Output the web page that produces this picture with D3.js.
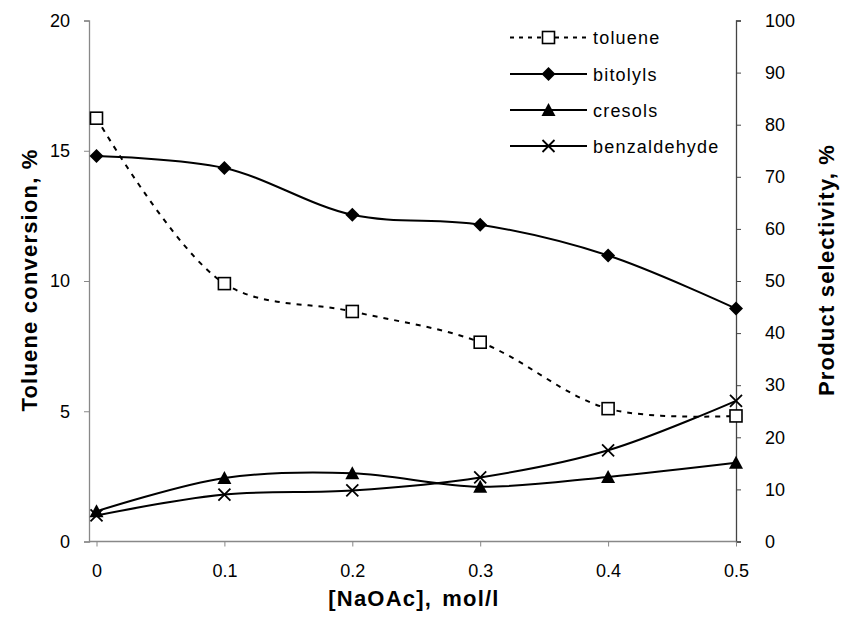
<!DOCTYPE html>
<html><head><meta charset="utf-8">
<script src="https://cdn.jsdelivr.net/npm/d3@7"></script>
<style>body{margin:0;background:#fff}svg{display:block;font-family:Arial,"Liberation Sans",sans-serif}</style>
</head><body><svg id="c" width="841" height="617"></svg>
<script>
const xValues = [0, 0.1, 0.2, 0.3, 0.4, 0.5];
const toluene = [16.25, 9.9, 8.83, 7.65, 5.1, 4.82];      // left axis, %
const bitolyls = [74.0, 71.7, 62.7, 60.8, 54.9, 44.7];     // right axis, %
const cresols = [5.8, 12.2, 13.1, 10.5, 12.4, 15.1];       // right axis, %
const benzaldehyde = [5.0, 9.0, 9.8, 12.3, 17.5, 27.0];    // right axis, %
const leftTicks = [0, 5, 10, 15, 20];
const rightTicks = [0, 10, 20, 30, 40, 50, 60, 70, 80, 90, 100];
const xTicks = [0, 0.1, 0.2, 0.3, 0.4, 0.5];
const xTickLabels = ["0", "0.1", "0.2", "0.3", "0.4", "0.5"];

(function(){
const svg = d3.select("#c");
const axisLeftX = 89, plotRight = 736, plotTop = 20.5, plotBottom = 541.5;
const x = d3.scaleLinear().domain([0, 0.5]).range([96.5, 736]);
const yL = d3.scaleLinear().domain([0, 20]).range([plotBottom, plotTop]);
const yR = d3.scaleLinear().domain([0, 100]).range([plotBottom, plotTop]);

// axes
const gL = svg.append("g").attr("transform", `translate(${axisLeftX},0)`)
  .call(d3.axisLeft(yL).tickValues(leftTicks).tickSize(5).tickPadding(14).tickFormat(d3.format("d")));
const gR = svg.append("g").attr("transform", `translate(${plotRight},0)`)
  .call(d3.axisRight(yR).tickValues(rightTicks).tickSize(5).tickPadding(24).tickFormat(d3.format("d")));
const gB = svg.append("g").attr("transform", `translate(0,${plotBottom})`)
  .call(d3.axisBottom(x).tickValues(xTicks).tickSize(5).tickPadding(18).tickFormat((d,i)=>xTickLabels[i]));
gB.select(".domain").attr("d", `M${axisLeftX},0H${plotRight}`);
[gL, gR, gB].forEach(g => {
  g.selectAll("text").attr("font-size", 18).attr("font-family", "Arial, 'Liberation Sans', sans-serif").attr("fill", "#000");
  g.selectAll(".domain").attr("stroke", "#888").attr("stroke-width", 1.3);
  g.selectAll(".tick line").attr("stroke", "#888");
});
gR.selectAll(".domain").attr("stroke", "#444");
gR.selectAll(".tick line").attr("stroke", "#444");

// axis titles
svg.append("text").attr("transform", "translate(37,280) rotate(-90)").attr("text-anchor", "middle")
  .attr("font-size", 22).attr("font-weight", "bold").attr("letter-spacing", 1.2).text("Toluene conversion, %");
svg.append("text").attr("transform", "translate(834,270) rotate(-90)").attr("text-anchor", "middle")
  .attr("font-size", 22).attr("font-weight", "bold").attr("letter-spacing", 1.2).text("Product selectivity, %");
svg.append("text").attr("x", 414).attr("y", 606).attr("text-anchor", "middle")
  .attr("font-size", 22).attr("font-weight", "bold").attr("letter-spacing", 1.2).attr("word-spacing", 3).text("[NaOAc], mol/l");

const curve = d3.curveCatmullRom.alpha(0.5);
const series = [
  {name: "toluene", vals: toluene, y: yL, dash: "5,6", marker: "square"},
  {name: "bitolyls", vals: bitolyls, y: yR, dash: null, marker: "diamond"},
  {name: "cresols", vals: cresols, y: yR, dash: null, marker: "triangle"},
  {name: "benzaldehyde", vals: benzaldehyde, y: yR, dash: null, marker: "cross"}
];

function drawMarker(g, type, cx, cy) {
  if (type === "square") {
    g.append("rect").attr("x", cx-6).attr("y", cy-6).attr("width", 12).attr("height", 12)
      .attr("fill", "#fff").attr("stroke", "#000").attr("stroke-width", 1.6);
  } else if (type === "diamond") {
    g.append("path").attr("d", `M${cx},${cy-7}L${cx+7},${cy}L${cx},${cy+7}L${cx-7},${cy}Z`).attr("fill", "#000");
  } else if (type === "triangle") {
    g.append("path").attr("d", `M${cx},${cy-7}L${cx+7},${cy+6}L${cx-7},${cy+6}Z`).attr("fill", "#000");
  } else if (type === "cross") {
    g.append("path").attr("d", `M${cx-6},${cy-6}L${cx+6},${cy+6}M${cx-6},${cy+6}L${cx+6},${cy-6}`)
      .attr("stroke", "#000").attr("stroke-width", 1.8);
  }
}

series.forEach(s => {
  const pts = xValues.map((xv, i) => [x(xv), s.y(s.vals[i])]);
  svg.append("path").attr("d", d3.line().curve(curve)(pts)).attr("fill", "none")
    .attr("stroke", "#000").attr("stroke-width", 2)
    .attr("stroke-dasharray", s.dash);
  const g = svg.append("g");
  pts.forEach(p => drawMarker(g, s.marker, p[0], p[1]));
});

// legend
const legY = [37.5, 74, 110, 146];
series.forEach((s, i) => {
  const g = svg.append("g");
  g.append("line").attr("x1", 510).attr("x2", 587).attr("y1", legY[i]).attr("y2", legY[i])
    .attr("stroke", "#000").attr("stroke-width", 2).attr("stroke-dasharray", s.dash ? "4,5" : null);
  drawMarker(g, s.marker, 548.5, legY[i]);
  g.append("text").attr("x", 593).attr("y", legY[i] + 6.5).attr("font-size", 18)
    .attr("letter-spacing", 1.2).text(s.name);
});
})();
</script></body></html>
